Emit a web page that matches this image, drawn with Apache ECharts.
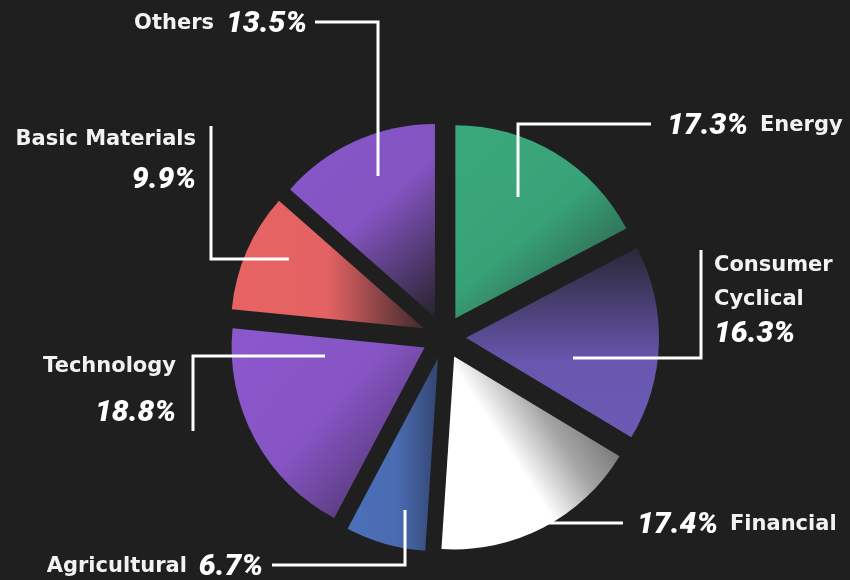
<!DOCTYPE html>
<html><head><meta charset="utf-8">
<script src="https://cdn.jsdelivr.net/npm/echarts@6/dist/echarts.min.js"></script>
<style>html,body{margin:0;padding:0;background:#201f1f;}#c{width:850px;height:580px;}</style>
</head><body><div id="c"></div>
<script>
// ---- data ----
const sectors = ['Energy', 'Consumer Cyclical', 'Financial', 'Agricultural', 'Technology', 'Basic Materials', 'Others'];
const shares = [17.3, 16.3, 17.4, 6.7, 18.8, 9.9, 13.5];

// ---- styles ----
const BG = '#201f1f';
const gradients = [
  { x: 0.2, y: 0, x2: 1, y2: 0.85, stops: [[0, '#3aa87b'], [0.5, '#38a277'], [1, '#2b5646']] },
  { x: 0, y: 0, x2: 0, y2: 1, stops: [[0, '#2a2737'], [0.6, '#6757ae'], [1, '#6a5ab5']] },
  { x: 0, y: 0.8, x2: 1, y2: 0.2, stops: [[0, '#ffffff'], [0.42, '#ffffff'], [0.65, '#a5a5a5'], [1, '#585858']] },
  { x: 0, y: 0, x2: 1, y2: 0, stops: [[0, '#4b70ba'], [0.55, '#4a6bb1'], [1, '#334672']] },
  { x: 0, y: 0.1, x2: 1, y2: 1, stops: [[0, '#8b58cc'], [0.45, '#8654c4'], [1, '#3b2b4f']] },
  { x: 0, y: 0, x2: 1, y2: 0, stops: [[0, '#e86464'], [0.5, '#e46263'], [1, '#3e2a2c']] },
  { x: 0, y: 0.15, x2: 1, y2: 1, stops: [[0, '#8856c8'], [0.45, '#8454c2'], [1, '#28232f']] }
];
// label placement: mode, anchor, alignment, line height, elbow line (layout only)
const labelPlacement = [
  { mode: 'valueFirst', x: 667, y: 126, align: 'left', lh: 34, line: [[518, 197], [518, 124], [651, 124]] },
  { mode: 'stack', wrap: true, x: 714, y: 300, align: 'left', lh: 34, line: [[573, 358], [701, 358], [701, 250]] },
  { mode: 'valueFirst', x: 637, y: 525, align: 'left', lh: 34, line: [[547, 523], [623, 523]] },
  { mode: 'nameFirst', x: 263, y: 567, align: 'right', lh: 34, line: [[405, 510], [405, 565], [272, 565]] },
  { mode: 'stack', x: 176, y: 390, align: 'right', lh: 47, line: [[325, 356], [193, 356], [193, 431]] },
  { mode: 'stack', x: 196, y: 160, align: 'right', lh: 41, line: [[289, 259], [211, 259], [211, 126]] },
  { mode: 'nameFirst', x: 307, y: 24, align: 'right', lh: 34, line: [[378, 176], [378, 22], [315, 22]] }
];

function richFor(lh) {
  return {
    n: { fontFamily: 'DejaVu Sans', fontWeight: 'bold', fontSize: 21, fill: '#f2f2f2', color: '#f2f2f2', lineHeight: lh },
    v: { fontFamily: 'Roboto', fontWeight: 900, fontStyle: 'italic', fontSize: 30, fill: '#ffffff', color: '#ffffff', lineHeight: lh },
    s: { width: 12, lineHeight: lh }
  };
}
function labelText(i) {
  const L = labelPlacement[i];
  const v = '{v|' + shares[i].toFixed(1) + '%}';
  const n = L.wrap ? sectors[i].split(' ').map(function (s) { return '{n|' + s + '}'; }).join('\n') : '{n|' + sectors[i] + '}';
  if (L.mode === 'valueFirst') return v + '{s| }' + n;
  if (L.mode === 'nameFirst') return n + '{s| }' + v;
  return n + '\n' + v;
}

const graphics = [];
labelPlacement.forEach(function (L, i) {
  graphics.push({
    type: 'polyline', z: 100, silent: true,
    shape: { points: L.line },
    style: { stroke: '#ffffff', lineWidth: 3, fill: null, lineJoin: 'miter' }
  });
  graphics.push({
    type: 'text', z: 100, silent: true, x: L.x, y: L.y,
    style: { text: labelText(i), rich: richFor(L.lh), align: L.align, verticalAlign: 'middle', fill: '#ffffff' }
  });
});

const chart = echarts.init(document.getElementById('c'), null, { renderer: 'canvas' });
chart.setOption({
  backgroundColor: BG,
  animation: false,
  graphic: graphics,
  series: [{
    type: 'pie',
    center: [444, 337],
    radius: 193,
    startAngle: 90,
    clockwise: true,
    selectedMode: 'multiple',
    selectedOffset: 22,
    avoidLabelOverlap: false,
    emphasis: { disabled: true },
    label: { show: false },
    labelLine: { show: false },
    data: sectors.map(function (name, i) {
      const g = gradients[i];
      return {
        name: name,
        value: shares[i],
        selected: true,
        itemStyle: {
          color: {
            type: 'linear', x: g.x, y: g.y, x2: g.x2, y2: g.y2,
            colorStops: g.stops.map(function (s) { return { offset: s[0], color: s[1] }; })
          }
        }
      };
    })
  }]
});
</script>
</body></html>
